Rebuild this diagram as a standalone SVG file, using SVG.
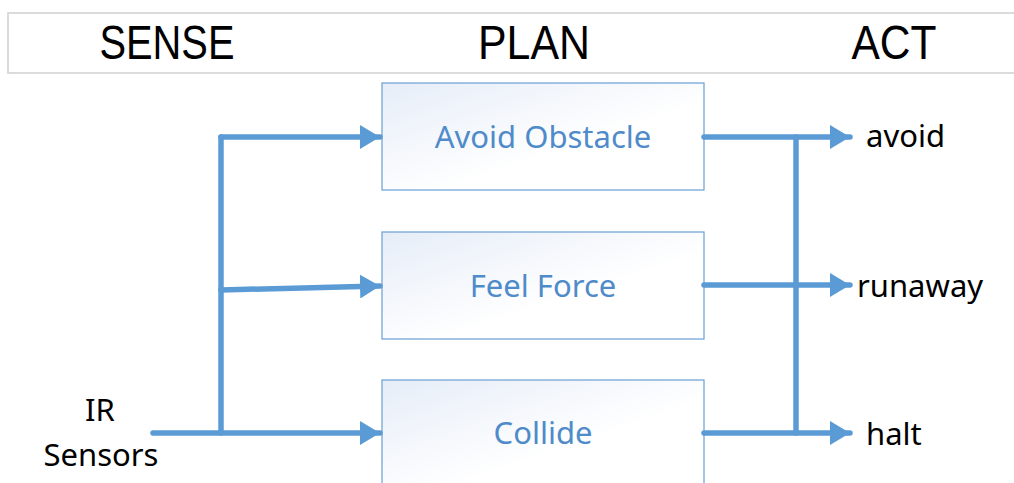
<svg xmlns="http://www.w3.org/2000/svg" width="1014" height="483" viewBox="0 0 1014 483">
<style>
.hdr{font-family:"Liberation Sans",Arial,sans-serif;font-size:49px;fill:#000;text-anchor:middle}
.box{stroke:#6a9fd4;stroke-width:1.2;fill:url(#g)}
.bt{font-family:"Noto Sans","Open Sans",sans-serif;font-size:31px;fill:#4f8bc9;text-anchor:middle}
.lb{font-family:"Noto Sans","Open Sans",sans-serif;font-size:31px;fill:#000}
.c{stroke:#5b9bd5;stroke-width:5.5;fill:none;stroke-linecap:round}
</style>
<defs>
<linearGradient id="g" x1="0" y1="0" x2="1" y2="1">
<stop offset="0" stop-color="#e6edf8"/>
<stop offset="0.6" stop-color="#ffffff"/>
</linearGradient>
<marker id="a" markerUnits="userSpaceOnUse" markerWidth="22" markerHeight="24" refX="20" refY="12" orient="auto" viewBox="0 0 22 24">
<path d="M0,0 L20,12 L0,24 z" fill="#5b9bd5"/>
</marker>
</defs>
<rect x="8" y="13" width="1010" height="60" fill="#fff" stroke="#d0d0d0" stroke-width="1.5"/>
<text class="hdr" x="167" y="59" textLength="135" lengthAdjust="spacingAndGlyphs">SENSE</text>
<text class="hdr" x="534" y="59" textLength="112" lengthAdjust="spacingAndGlyphs">PLAN</text>
<text class="hdr" x="894" y="59" textLength="85" lengthAdjust="spacingAndGlyphs">ACT</text>
<g id="avoid-obstacle"><rect class="box" x="382" y="83" width="322" height="107"/><text class="bt" x="543" y="148">Avoid Obstacle</text></g>
<g id="feel-force"><rect class="box" x="382" y="232" width="322" height="107"/><text class="bt" x="543" y="297">Feel Force</text></g>
<g id="collide"><rect class="box" x="382" y="380" width="322" height="110"/><text class="bt" x="543" y="444">Collide</text></g>
<g id="connectors">
<path class="c" d="M221,433 V137"/>
<path class="c" d="M221,137 H380" marker-end="url(#a)"/>
<path class="c" d="M221,290 L380,286" marker-end="url(#a)"/>
<path class="c" d="M153,433 H380" marker-end="url(#a)"/>
<path class="c" d="M796,137 V433"/>
<path class="c" d="M704,137 H850" marker-end="url(#a)"/>
<path class="c" d="M704,285 H850" marker-end="url(#a)"/>
<path class="c" d="M704,433 H850" marker-end="url(#a)"/>
</g>
<text class="lb" x="866" y="147">avoid</text>
<text class="lb" x="857" y="297">runaway</text>
<text class="lb" x="866" y="445">halt</text>
<text class="lb" x="100" y="421" text-anchor="middle">IR</text>
<text class="lb" x="101" y="466" text-anchor="middle">Sensors</text>
</svg>
